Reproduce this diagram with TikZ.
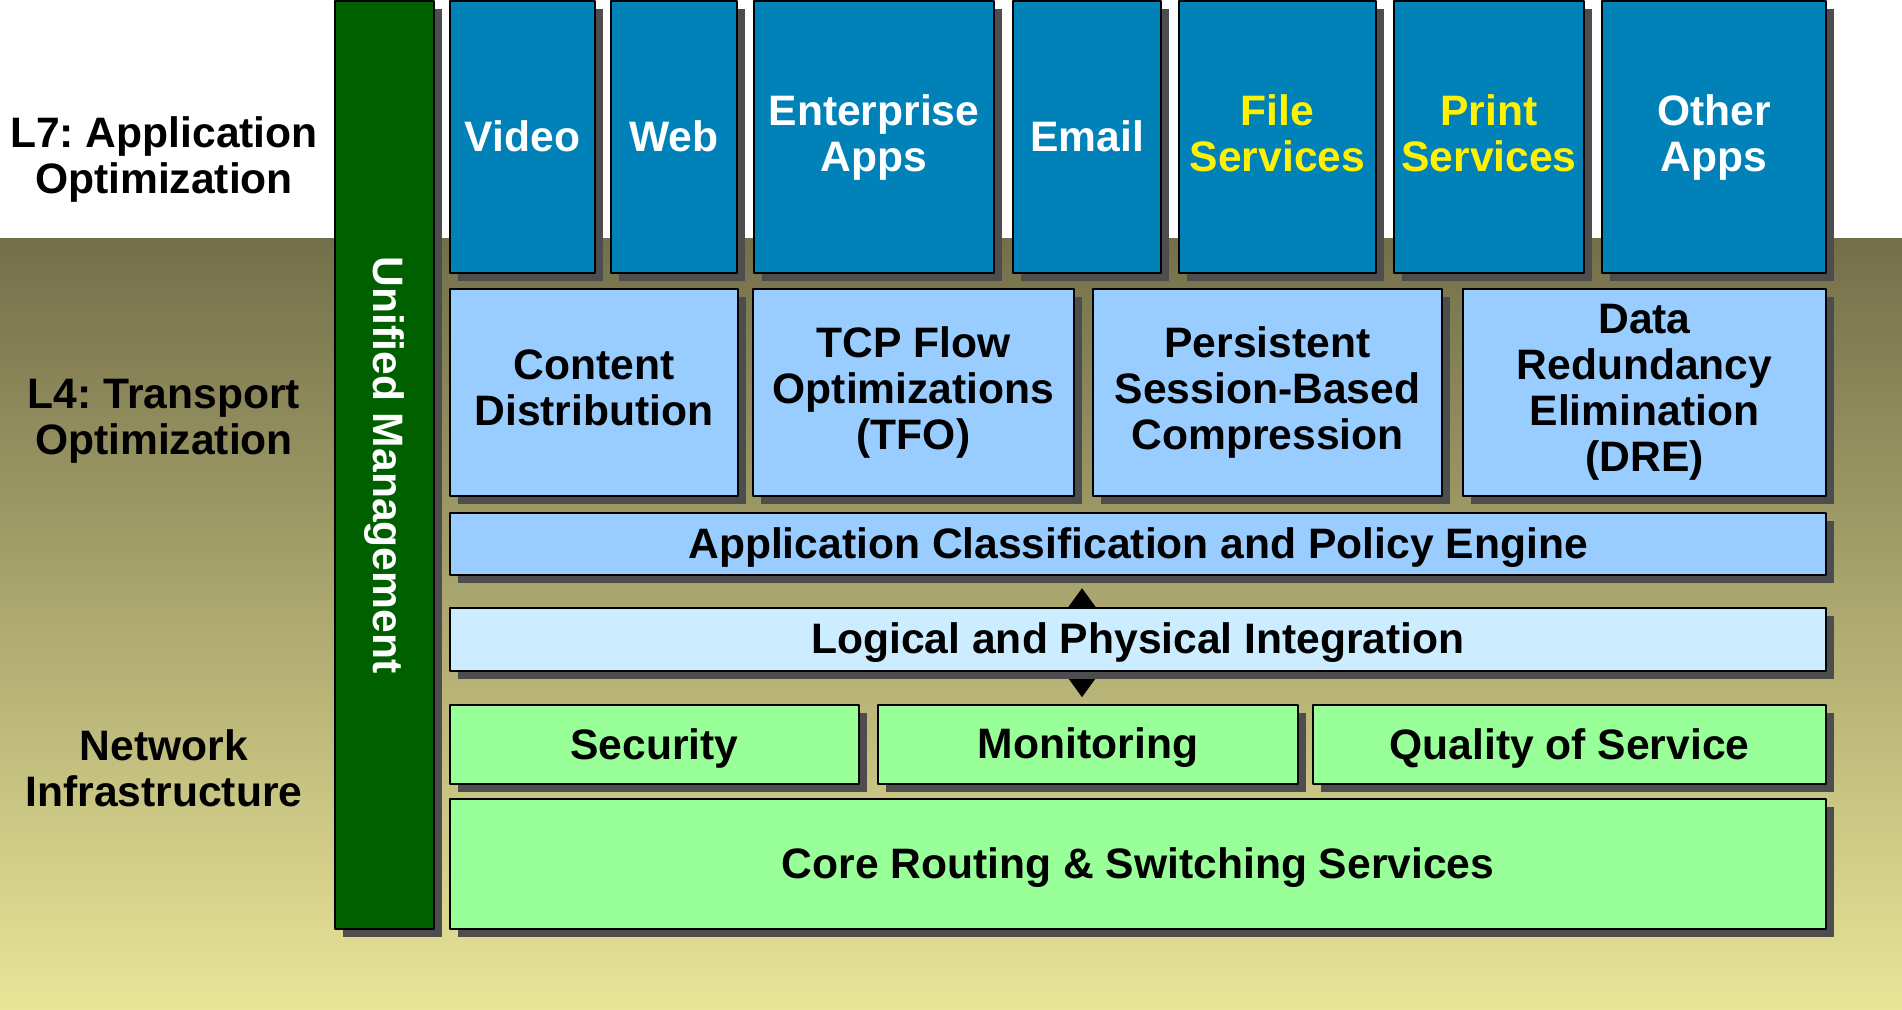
\documentclass[tikz,border=0pt]{standalone}
\usepackage{fontspec}
\setmainfont{Liberation Sans}
\usepackage{tikz}
\usetikzlibrary{arrows.meta,shadows,backgrounds}
\definecolor{appblue}{HTML}{0082B8}
\definecolor{tptblue}{HTML}{99CCFF}
\definecolor{intblue}{HTML}{CCECFF}
\definecolor{netgreen}{HTML}{99FF99}
\definecolor{mgmtgreen}{HTML}{006000}
\definecolor{shadowgray}{HTML}{4D4D4D}
\definecolor{bgtop}{HTML}{736F4A}
\definecolor{bgbot}{HTML}{E9E598}
\newcommand{\lnstrut}{\rule[-4.4bp]{0pt}{23.4bp}}
\frenchspacing

\begin{document}
\begin{tikzpicture}[>={Triangle[width=15bp,length=10.5bp]},line join=bevel,
	every node/.style={font=\fontsize{21.3bp}{23bp}\selectfont\bfseries,align=center,inner sep=2bp},
	sgl/.style={execute at begin node=\lnstrut,execute at end node=\lnstrut},
	blk/.style={draw=black,line width=1.2bp,rectangle,general shadow={fill=shadowgray,shadow xshift=4bp,shadow yshift=-4bp}},
	app/.style={blk,sgl,fill=appblue,text=white,minimum height=136bp},
	tpt/.style={blk,sgl,fill=tptblue,minimum height=103.5bp},
	net/.style={blk,sgl,fill=netgreen,minimum height=39.5bp},
	wide/.style={blk,sgl,minimum width=688bp}]
	\useasboundingbox (0bp,0bp) rectangle (951bp,505bp);
		\node (mgmt) at (192.25bp,272.5bp) [blk,fill=mgmtgreen,text=white,minimum width=49.5bp,minimum height=464bp] {\rotatebox{-90}{Unified Management}};
		  \node (l7) at (82bp,425.4bp) [sgl] {L7: Application\\Optimization};
		  \node (l4) at (82bp,294.5bp) [sgl] {L4: Transport\\Optimization};
		  \node (ni) at (82bp,119bp) [sgl] {Network\\Infrastructure};
		  \node (video) at (261.25bp,436.5bp) [app,minimum width=72.5bp] {Video};
		  \node (web) at (337bp,436.5bp) [app,minimum width=63bp] {Web};
		  \node (ent) at (437bp,436.5bp) [app,minimum width=120bp] {Enterprise\\Apps};
		  \node (email) at (543.5bp,436.5bp) [app,minimum width=74bp] {Email};
		  \node (file) at (638.75bp,436.5bp) [app,minimum width=98.5bp,text=yellow] {File\\Services};
		  \node (print) at (744.5bp,436.5bp) [app,minimum width=95bp,text=yellow] {Print\\Services};
		  \node (other) at (857bp,436.5bp) [app,minimum width=112bp] {Other\\Apps};
		  \node (cd) at (297bp,308.75bp) [tpt,minimum width=144bp] {Content\\Distribution};
		  \node (tfo) at (456.75bp,308.75bp) [tpt,minimum width=160.5bp] {TCP Flow\\Optimizations\\(TFO)};
		  \node (psbc) at (633.75bp,308.75bp) [tpt,minimum width=174.5bp] {Persistent\\Session-Based\\Compression};
		  \node (dre) at (822.25bp,308.75bp) [tpt,minimum width=181.5bp] {Data\\Redundancy\\Elimination\\(DRE)};
		  \node (class) at (569bp,233bp) [wide,fill=tptblue,minimum height=31bp] {Application Classification and Policy Engine};
		  \node (integ) at (569bp,185.25bp) [wide,fill=intblue,minimum height=31.5bp] {Logical and Physical Integration};
		  \node (sec) at (327.25bp,132.75bp) [net,minimum width=204.5bp] {Security};
		  \node (mon) at (544bp,132.75bp) [net,minimum width=210bp] {Monitoring};
		  \node (qos) at (784.75bp,132.75bp) [net,minimum width=256.5bp] {Quality of Service};
		  \node (core) at (569bp,73bp) [wide,fill=netgreen,minimum height=65bp] {Core Routing \& Switching Services};
		  \begin{scope}[on background layer]
		  \fill [white] (0bp,385.5bp) rectangle (951bp,505bp);
		  \shade [top color=bgtop,bottom color=bgbot] (0bp,0bp) rectangle (951bp,385.5bp);
		  \draw [<->,line width=1bp] ([xshift=-28bp,yshift=-6bp]class.south) -- ([xshift=-28bp,yshift=-12.5bp]integ.south);
		  \end{scope}
	\end{tikzpicture}
\end{document}
